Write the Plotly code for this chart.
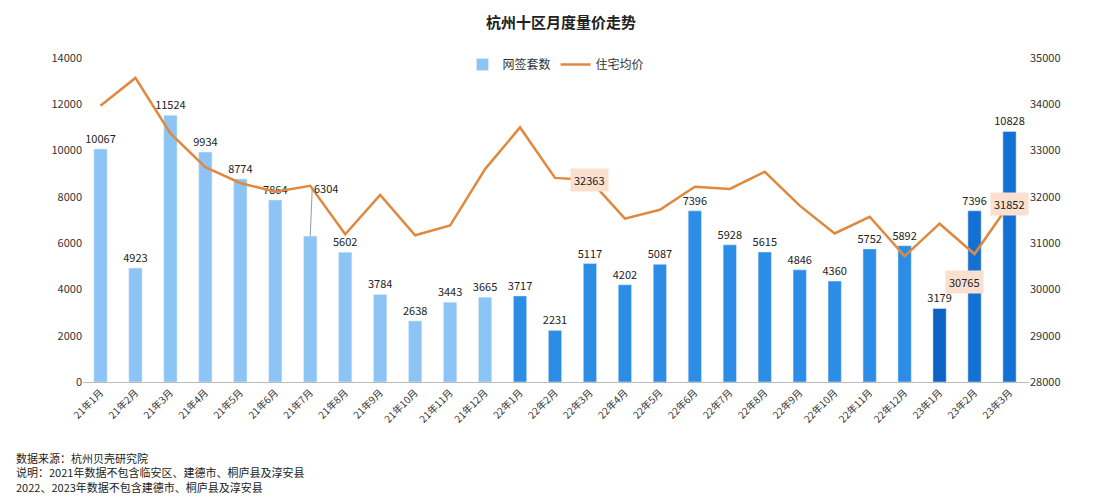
import plotly.graph_objects as go

months = ["21年1月","21年2月","21年3月","21年4月","21年5月","21年6月","21年7月","21年8月","21年9月","21年10月","21年11月","21年12月",
          "22年1月","22年2月","22年3月","22年4月","22年5月","22年6月","22年7月","22年8月","22年9月","22年10月","22年11月","22年12月",
          "23年1月","23年2月","23年3月"]
volume = [10067,4923,11524,9934,8774,7864,6304,5602,3784,2638,3443,3665,
          3717,2231,5117,4202,5087,7396,5928,5615,4846,4360,5752,5892,
          3179,7396,10828]
price = [33970,34570,33370,32640,32300,32110,32240,31190,32040,31170,31380,32600,
         33500,32410,32363,31530,31720,32220,32170,32540,31810,31210,31570,30720,
         31420,30765,31852]
highlight = {"22年3月":32363,"23年2月":30765,"23年3月":31852}

colors = ["#8cc5f5"]*12 + ["#2b8de6"]*12 + ["#0d62c4","#1570d4","#1570d4"]

fig = go.Figure()
fig.add_bar(x=months, y=volume, name="网签套数", marker_color=colors, width=0.38,
            text=[str(v) if m!="21年7月" else "" for m,v in zip(months,volume)],
            textposition="outside", textfont=dict(size=11,color="#222"), cliponaxis=False,
            constraintext="none")
fig.add_scatter(x=months, y=price, name="住宅均价", yaxis="y2", mode="lines",
                line=dict(color="#e0893e", width=2.5))
fig.add_annotation(x="21年7月", y=6304, ax=2, ay=-48, text="6304", showarrow=True, xanchor="left",
                   arrowhead=0, arrowcolor="#999", arrowwidth=1, font=dict(size=11,color="#222"))
for m,v in highlight.items():
    fig.add_annotation(x=m, y=v, yref="y2", text=str(v), showarrow=False,
                       bgcolor="#fbe0d0", font=dict(size=11,color="#222"), borderpad=3,
                       yshift=0 if m!="23年2月" else -28, xshift=0 if m!="23年2月" else -10)

fig.update_layout(
    width=1106, height=500, plot_bgcolor="white", paper_bgcolor="white",
    font=dict(family="Noto Sans CJK SC", size=11, color="#333"),
    title=dict(text="<b>杭州十区月度量价走势</b>", x=0.5, xanchor="center", y=0.97, yanchor="middle", font=dict(size=15,color="#222")),
    margin=dict(l=75,r=85,t=50,b=126),
    bargap=0.5,
    legend=dict(orientation="h", x=0.5, xanchor="center", y=0.935, yanchor="bottom", font=dict(size=12),
                bgcolor="rgba(0,0,0,0)"),
    xaxis=dict(tickangle=-45, showline=True, linecolor="#bbb", tickfont=dict(size=10)),
    yaxis=dict(range=[0,14000], dtick=2000, showgrid=False, showline=False, ticks="", tickformat="d"),
    yaxis2=dict(range=[28000,35000], dtick=1000, overlaying="y", side="right", showgrid=False, tickformat="d"),
)
fig.add_annotation(xref="paper", yref="paper", x=-0.073, y=-0.205, xanchor="left", yanchor="top", align="left",
    showarrow=False, font=dict(size=11,color="#222"),
    text="数据来源：杭州贝壳研究院<br>说明：2021年数据不包含临安区、建德市、桐庐县及淳安县<br>2022、2023年数据不包含建德市、桐庐县及淳安县")
fig.write_html("out.html")
